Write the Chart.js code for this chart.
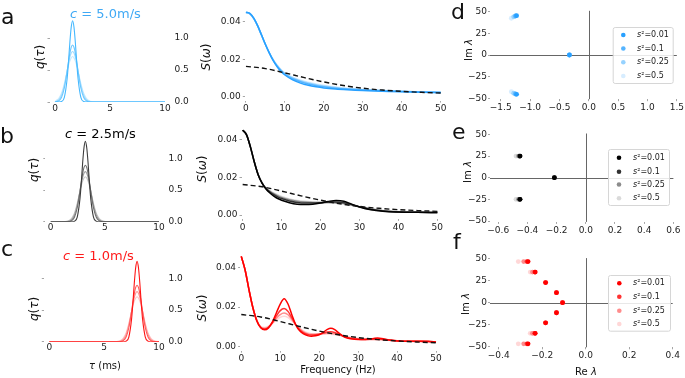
<!DOCTYPE html>
<html><head><meta charset="utf-8">
<script src="https://cdn.jsdelivr.net/npm/chart.js@4.4.0/dist/chart.umd.min.js"></script>
<style>
html,body{margin:0;padding:0;background:#fff;}
#wrap{position:relative;width:685px;height:378px;overflow:hidden;font-family:"DejaVu Sans",sans-serif;color:#111;}
canvas{position:absolute;}
.t{position:absolute;white-space:nowrap;line-height:1;}
.c{position:absolute;white-space:nowrap;line-height:1;transform:translate(-50%,-50%);}
.rot{position:absolute;white-space:nowrap;line-height:1;transform:translate(-50%,-50%) rotate(-90deg);}
.L{font-size:22px;line-height:22px;}
</style></head><body><div id="wrap">
<canvas id="qa"></canvas><canvas id="qb"></canvas><canvas id="qc"></canvas>
<canvas id="sa"></canvas><canvas id="sb"></canvas><canvas id="sc"></canvas>
<canvas id="pd"></canvas><canvas id="pe"></canvas><canvas id="pf"></canvas>
<div class="t L" style="left:1px;top:6px">a</div>
<div class="t L" style="left:0px;top:125px">b</div>
<div class="t L" style="left:1px;top:238px">c</div>
<div class="t L" style="left:451px;top:1px">d</div>
<div class="t L" style="left:452px;top:121px">e</div>
<div class="t L" style="left:453px;top:231px">f</div>
<div class="t" style="left:70px;top:7px;font-size:13px;color:#3fa9f5"><i>c</i> = 5.0m/s</div>
<div class="t" style="left:65px;top:127px;font-size:13px;color:#000"><i>c</i> = 2.5m/s</div>
<div class="t" style="left:63px;top:249px;font-size:13px;color:#ff1a1a"><i>c</i> = 1.0m/s</div>
<div class="rot" style="left:40px;top:57px;font-size:12px"><i>q</i>(<i>τ</i>)</div>
<div class="rot" style="left:34px;top:170px;font-size:12px"><i>q</i>(<i>τ</i>)</div>
<div class="rot" style="left:34px;top:309px;font-size:12px"><i>q</i>(<i>τ</i>)</div>
<div class="rot" style="left:206px;top:57px;font-size:12px"><i>S</i>(<i>ω</i>)</div>
<div class="rot" style="left:202px;top:169px;font-size:12px"><i>S</i>(<i>ω</i>)</div>
<div class="rot" style="left:202px;top:308px;font-size:12px"><i>S</i>(<i>ω</i>)</div>
<div class="rot" style="left:469px;top:50px;font-size:10px">Im <i>λ</i></div>
<div class="rot" style="left:468px;top:172px;font-size:10px">Im <i>λ</i></div>
<div class="rot" style="left:466px;top:304px;font-size:10px">Im <i>λ</i></div>
<div class="c" style="left:105px;top:366px;font-size:10px"><i>τ</i> (ms)</div>
<div class="c" style="left:338px;top:370px;font-size:10px">Frequency (Hz)</div>
<div class="c" style="left:586px;top:372px;font-size:10px">Re <i>λ</i></div>
</div>
<script>
// ---------- data ----------
const s2Labels = ['0.01', '0.1', '0.25', '0.5'];
const qTicksX = [0, 5, 10];
const qTicksY = [0, 0.5, 1.0];
const sTicksX = [0, 10, 20, 30, 40, 50];
const sTicksY = [0, 0.02, 0.04];
const imTicks = [-50, -25, 0, 25, 50];
const dTicksX = [-1.5, -1.0, -0.5, 0, 0.5, 1.0, 1.5];
const eTicksX = [-0.6, -0.4, -0.2, 0, 0.2, 0.4, 0.6];
const fTicksX = [-0.4, -0.2, 0, 0.2, 0.4];

// delay kernel q(tau): peak delay per speed, offsets around the peak
const qPeakA = 1.6, qPeakB = 3.2, qPeakC = 8.0;
const qOffsets = [-2, -1.75, -1.5, -1.25, -1, -0.75, -0.5, -0.375, -0.25, -0.125, 0, 0.125, 0.25, 0.375, 0.5, 0.75, 1, 1.25, 1.5, 1.75, 2];
const q001 = [0, 0, 0, 0, 0.008, 0.074, 0.36, 0.62, 0.93, 1.17, 1.27, 1.17, 0.93, 0.62, 0.36, 0.074, 0.008, 0, 0, 0, 0];
const q01 = [0, 0, 0.003, 0.019, 0.075, 0.22, 0.48, 0.63, 0.76, 0.856, 0.89, 0.856, 0.76, 0.63, 0.48, 0.22, 0.075, 0.019, 0.003, 0, 0];
const q025 = [0, 0.002, 0.01, 0.037, 0.11, 0.26, 0.48, 0.60, 0.70, 0.766, 0.79, 0.766, 0.70, 0.60, 0.48, 0.26, 0.11, 0.037, 0.01, 0.002, 0];
const q05 = [0.001, 0.005, 0.02, 0.059, 0.14, 0.29, 0.48, 0.57, 0.64, 0.69, 0.71, 0.69, 0.64, 0.57, 0.48, 0.29, 0.14, 0.059, 0.02, 0.005, 0.001];

// spectra S(omega)
const fDash = [0, 5, 10, 15, 20, 25, 30, 35, 40, 45, 50];
const sDash = [0.0162, 0.0150, 0.0127, 0.0102, 0.0079, 0.0060, 0.0046, 0.0036, 0.0029, 0.0024, 0.0020];

const fA = [0, 1, 2, 3, 4, 5, 6, 7, 8, 9, 10, 12, 14, 16, 18, 20, 23, 26, 30, 35, 40, 45, 50];
const sA001 = [0.0450, 0.0443, 0.0418, 0.0378, 0.0328, 0.0278, 0.0232, 0.0192, 0.0160, 0.0135, 0.0116, 0.0090, 0.0073, 0.0061, 0.0053, 0.0047, 0.0041, 0.0037, 0.0033, 0.0030, 0.0027, 0.0025, 0.0023];
const sA01 = [0.0449, 0.0442, 0.0417, 0.0377, 0.0328, 0.0278, 0.0233, 0.0194, 0.0163, 0.0139, 0.0120, 0.0096, 0.0080, 0.0068, 0.0060, 0.0053, 0.0046, 0.0041, 0.0036, 0.0032, 0.0028, 0.0025, 0.0023];
const sA025 = [0.0448, 0.0441, 0.0416, 0.0376, 0.0327, 0.0278, 0.0234, 0.0196, 0.0166, 0.0142, 0.0123, 0.0100, 0.0085, 0.0073, 0.0064, 0.0057, 0.0049, 0.0043, 0.0038, 0.0033, 0.0029, 0.0026, 0.0023];
const sA05 = [0.0447, 0.0440, 0.0415, 0.0375, 0.0327, 0.0278, 0.0235, 0.0198, 0.0169, 0.0145, 0.0126, 0.0104, 0.0089, 0.0077, 0.0068, 0.0061, 0.0052, 0.0045, 0.0039, 0.0034, 0.0030, 0.0026, 0.0023];

const fB = [0, 1, 2, 3, 4, 5, 6, 7, 8, 9, 10, 12, 14, 16, 18, 20, 22, 24, 26, 28, 30, 33, 36, 40, 45, 50];
const sB001 = [0.0450, 0.0425, 0.0360, 0.0280, 0.0212, 0.0168, 0.0138, 0.0117, 0.0101, 0.0088, 0.0079, 0.0066, 0.0058, 0.0056, 0.0058, 0.0064, 0.0072, 0.0077, 0.0073, 0.0058, 0.0043, 0.0028, 0.0021, 0.0017, 0.0015, 0.0014];
const sB01 = [0.0450, 0.0425, 0.0360, 0.0281, 0.0213, 0.0169, 0.0140, 0.0122, 0.0108, 0.0097, 0.0088, 0.0075, 0.0067, 0.0064, 0.0064, 0.0066, 0.0069, 0.0070, 0.0066, 0.0056, 0.0044, 0.0030, 0.0022, 0.0017, 0.0015, 0.0014];
const sB025 = [0.0450, 0.0425, 0.0360, 0.0281, 0.0214, 0.0170, 0.0142, 0.0126, 0.0113, 0.0103, 0.0094, 0.0081, 0.0073, 0.0069, 0.0067, 0.0067, 0.0067, 0.0066, 0.0062, 0.0054, 0.0045, 0.0032, 0.0023, 0.0018, 0.0015, 0.0014];
const sB05 = [0.0450, 0.0425, 0.0361, 0.0282, 0.0215, 0.0171, 0.0144, 0.0130, 0.0118, 0.0108, 0.0099, 0.0086, 0.0078, 0.0073, 0.0070, 0.0068, 0.0066, 0.0063, 0.0059, 0.0052, 0.0045, 0.0034, 0.0025, 0.0019, 0.0015, 0.0014];

const fC = [0, 1, 2, 3, 4, 5, 6, 7, 8, 9, 10, 11, 12, 13, 14, 15, 16, 17, 18, 19, 20, 21, 22, 23, 24, 25, 26, 27, 28, 30, 32, 34, 35, 36, 38, 40, 43, 46, 48, 50];
const sC001 = [0.0455, 0.0385, 0.0285, 0.0195, 0.0130, 0.0095, 0.0085, 0.0095, 0.0125, 0.0170, 0.0215, 0.0242, 0.0215, 0.0160, 0.0110, 0.0080, 0.0065, 0.0056, 0.0053, 0.0055, 0.0060, 0.0072, 0.0086, 0.0093, 0.0086, 0.0070, 0.0055, 0.0045, 0.0040, 0.0036, 0.0037, 0.0042, 0.0044, 0.0042, 0.0034, 0.0029, 0.0027, 0.0028, 0.0027, 0.0024];
const sC01 = [0.0455, 0.0385, 0.0285, 0.0195, 0.0131, 0.0097, 0.0089, 0.0098, 0.0122, 0.0155, 0.0182, 0.0192, 0.0178, 0.0145, 0.0110, 0.0085, 0.0070, 0.0062, 0.0059, 0.0060, 0.0063, 0.0068, 0.0074, 0.0076, 0.0072, 0.0063, 0.0055, 0.0048, 0.0043, 0.0038, 0.0037, 0.0039, 0.0039, 0.0038, 0.0034, 0.0030, 0.0027, 0.0027, 0.0026, 0.0024];
const sC025 = [0.0455, 0.0385, 0.0285, 0.0196, 0.0132, 0.0099, 0.0093, 0.0100, 0.0119, 0.0143, 0.0162, 0.0170, 0.0161, 0.0137, 0.0111, 0.0090, 0.0075, 0.0066, 0.0063, 0.0063, 0.0064, 0.0066, 0.0068, 0.0068, 0.0065, 0.0060, 0.0054, 0.0049, 0.0045, 0.0040, 0.0038, 0.0037, 0.0037, 0.0036, 0.0033, 0.0030, 0.0027, 0.0026, 0.0025, 0.0024];
const sC05 = [0.0455, 0.0385, 0.0286, 0.0197, 0.0134, 0.0101, 0.0097, 0.0103, 0.0117, 0.0134, 0.0148, 0.0153, 0.0147, 0.0130, 0.0111, 0.0094, 0.0080, 0.0071, 0.0066, 0.0064, 0.0064, 0.0064, 0.0064, 0.0063, 0.0061, 0.0058, 0.0054, 0.0050, 0.0046, 0.0041, 0.0038, 0.0036, 0.0035, 0.0034, 0.0032, 0.0030, 0.0027, 0.0026, 0.0025, 0.0024];

// eigenvalues (Re, Im)
const dRe001 = [-1.23, -0.33, -1.23], dIm001 = [45.4, 0, -45.4];
const dRe01 = [-1.25, -0.33, -1.25], dIm01 = [45, 0, -45];
const dRe025 = [-1.28, -1.28], dIm025 = [44, -44];
const dRe05 = [-1.32, -1.32], dIm05 = [42.4, -42.4];
const eRe001 = [-0.45, -0.215, -0.45], eIm001 = [25, 0, -25];
const eRe01 = [-0.452, -0.215, -0.452], eIm01 = [25, 0, -25];
const eRe025 = [-0.46, -0.46], eIm025 = [25, -25];
const eRe05 = [-0.478, -0.478], eIm05 = [25, -25];
const fRe001 = [-0.265, -0.232, -0.184, -0.134, -0.106, -0.134, -0.184, -0.232, -0.265];
const fIm001 = [47, 35, 23, 11.5, 0, -11.5, -23, -35, -47];
const fRe01 = [-0.27, -0.234, -0.185, -0.135, -0.107, -0.135, -0.185, -0.234, -0.27];
const fIm01 = [47, 35, 23, 11.5, 0, -11.5, -23, -35, -47];
const fRe025 = [-0.285, -0.245, -0.245, -0.285], fIm025 = [47, 35, -35, -47];
const fRe05 = [-0.31, -0.255, -0.255, -0.31], fIm05 = [47, 35, -35, -47];

// ---------- styles ----------
const blueCols = ['rgb(40,160,255)', 'rgb(85,180,255)', 'rgb(150,210,255)', 'rgb(215,237,255)'];
const grayCols = ['rgb(0,0,0)', 'rgb(50,50,50)', 'rgb(140,140,140)', 'rgb(218,218,218)'];
const redCols = ['rgb(255,0,0)', 'rgb(255,50,50)', 'rgb(255,140,140)', 'rgb(255,215,215)'];
const qBlue = ['rgb(70,185,255)', 'rgb(110,200,255)', 'rgb(160,220,255)', 'rgb(200,235,255)'];
const qGray = ['rgb(60,60,60)', 'rgb(110,110,110)', 'rgb(160,160,160)', 'rgb(200,200,200)'];
const qRed = ['rgb(255,20,20)', 'rgb(255,90,90)', 'rgb(255,150,150)', 'rgb(255,195,195)'];
const tickFont = {family: 'DejaVu Sans', size: 9};
const tickColor = '#222';
const markColor = 'rgba(0,0,0,0.35)';

function fmt(dec) { return v => (v < 0 ? '\u2212' : '') + Math.abs(v).toFixed(dec); }
function setTicks(vals) { return s => { s.ticks = vals.map(v => ({value: v})); }; }
function zip(xs, ys) { return xs.map((x, i) => ({x: x, y: ys[i]})); }
function qPoints(peak, vals) {
  const pts = [{x: 0, y: 0}];
  qOffsets.forEach((o, i) => { const t = peak + o; if (t > 0 && t < 10) pts.push({x: t, y: vals[i]}); });
  pts.push({x: 10, y: 0});
  return pts;
}
function place(id, box, area) {
  const c = document.getElementById(id);
  c.width = box.w; c.height = box.h;
  c.style.left = box.x + 'px'; c.style.top = box.y + 'px';
  return {c, L: area.l - box.x, R: box.x + box.w - area.r, T: area.t - box.y, B: box.y + box.h - area.b};
}
function baseOpts(T, Rpad) {
  return {responsive: false, animation: false, events: [],
    layout: {autoPadding: false, padding: {top: T, right: Rpad || 0, left: 0, bottom: 0}},
    plugins: {legend: {display: false}, tooltip: {enabled: false}, title: {display: false}}};
}
function axis(pos, min, max, ticks, dec, size, marks, pad) {
  const a = {type: 'linear', position: pos, min, max, afterBuildTicks: setTicks(ticks),
    border: {display: false},
    grid: {display: marks, drawOnChartArea: false, drawTicks: marks, tickLength: 2, color: markColor},
    ticks: {callback: fmt(dec), font: tickFont, color: tickColor, padding: pad, maxRotation: 0, minRotation: 0, autoSkip: false}};
  if (pos === 'bottom') a.afterFit = s => { s.height = size; };
  else a.afterFit = s => { s.width = size; };
  return a;
}
function lineDs(pts, color, w, extra) {
  return Object.assign({data: pts, borderColor: color, backgroundColor: color, borderWidth: w, pointRadius: 0, fill: false, cubicInterpolationMode: 'monotone'}, extra || {});
}

// q(tau) panels
function qChart(id, box, area, peak, cols) {
  const p = place(id, box, area);
  const qs = [q001, q01, q025, q05];
  const ds = qs.map((v, i) => lineDs(qPoints(peak, v), cols[i], 1.1));
  const o = baseOpts(p.T, 0);
  o.scales = {
    x: axis('bottom', -0.5, 10.5, qTicksX, 0, p.B, false, 1),
    yl: axis('left', 0, 1.33, qTicksY, 1, p.L, true, 0),
    y: axis('right', 0, 1.33, qTicksY, 1, p.R, false, 4)
  };
  o.scales.yl.ticks.display = false;
  new Chart(p.c, {type: 'line', data: {datasets: ds}, options: o});
}
// S(omega) panels
function sChart(id, box, area, fr, series, cols) {
  const p = place(id, box, area);
  const ds = [lineDs(zip(fDash, sDash), '#111', 1.4, {borderDash: [5, 3]})]
    .concat(series.map((v, i) => lineDs(zip(fr, v), cols[i], 1.5)));
  const o = baseOpts(p.T, p.R);
  o.scales = {
    x: axis('bottom', -0.3, 50.3, sTicksX, 0, p.B, true, 1),
    y: axis('left', -0.002, 0.0475, sTicksY, 2, p.L, true, 2)
  };
  new Chart(p.c, {type: 'line', data: {datasets: ds}, options: o});
}
// eigenvalue panels
const zeroLines = {id: 'zeroLines', beforeDatasetsDraw(chart) {
  const {ctx, chartArea: a, scales: {x, y}} = chart;
  const px = Math.round(x.getPixelForValue(0)) + 0.5, py = Math.round(y.getPixelForValue(0)) + 0.5;
  ctx.save(); ctx.strokeStyle = '#666'; ctx.lineWidth = 1; ctx.beginPath();
  ctx.moveTo(a.left, py); ctx.lineTo(a.right, py); ctx.moveTo(px, a.top); ctx.lineTo(px, a.bottom);
  ctx.stroke(); ctx.restore();
}};
const s2Legend = {id: 's2Legend', afterDatasetsDraw(chart, args, o) {
  const ctx = chart.ctx;
  const [x0, y0, x1, y1] = o.box.map((v, i) => v - (i % 2 ? o.oy : o.ox));
  ctx.save();
  ctx.beginPath();
  if (ctx.roundRect) ctx.roundRect(x0 + 0.5, y0 + 0.5, x1 - x0, y1 - y0, 2); else ctx.rect(x0 + 0.5, y0 + 0.5, x1 - x0, y1 - y0);
  ctx.fillStyle = 'rgba(255,255,255,0.85)'; ctx.fill();
  ctx.strokeStyle = '#d6d6d6'; ctx.lineWidth = 1; ctx.stroke();
  ctx.textBaseline = 'middle';
  o.rows.forEach((ry, i) => {
    const yy = ry - o.oy;
    ctx.fillStyle = chart.data.datasets[i].backgroundColor;
    ctx.beginPath(); ctx.arc(o.dotX - o.ox, yy, 2.3, 0, Math.PI * 2); ctx.fill();
    ctx.fillStyle = '#222';
    ctx.font = 'italic 8px "DejaVu Sans"';
    const tx = o.textX - o.ox;
    ctx.fillText('s', tx, yy);
    const w = ctx.measureText('s').width;
    ctx.font = '8px "DejaVu Sans"';
    ctx.fillText('\u00b2=' + s2Labels[i], tx + w, yy);
  });
  ctx.restore();
}};
function eigChart(id, box, area, xmin, xmax, xticks, dec, sets, cols, leg) {
  const p = place(id, box, area);
  const ds = sets.map((s, i) => ({data: zip(s[0], s[1]), backgroundColor: cols[i], borderColor: cols[i], pointRadius: 2.4, pointBorderWidth: 0, showLine: false}));
  const o = baseOpts(p.T, p.R);
  o.scales = {
    x: axis('bottom', xmin, xmax, xticks, dec, p.B, true, 1),
    y: axis('left', -51, 51, imTicks, 0, p.L, true, 1)
  };
  o.plugins.s2Legend = Object.assign({ox: box.x, oy: box.y}, leg);
  new Chart(p.c, {type: 'scatter', data: {datasets: ds}, options: o, plugins: [zeroLines, s2Legend]});
}

qChart('qa', {x: 0, y: 0, w: 200, h: 118}, {l: 49.5, r: 170.5, t: 16.9, b: 102}, qPeakA, qBlue);
qChart('qb', {x: 0, y: 122, w: 200, h: 112}, {l: 45.3, r: 164.4, t: 137.4, b: 221.7}, qPeakB, qGray);
qChart('qc', {x: 0, y: 245, w: 200, h: 112}, {l: 43.8, r: 164.5, t: 257.4, b: 341.7}, qPeakC, qRed);

sChart('sa', {x: 212, y: 0, w: 240, h: 118}, {l: 244.8, r: 441.9, t: 3.6, b: 100.6}, fA, [sA001, sA01, sA025, sA05], blueCols);
sChart('sb', {x: 212, y: 118, w: 240, h: 116}, {l: 241.5, r: 438.5, t: 122.0, b: 218.9}, fB, [sB001, sB01, sB025, sB05], grayCols);
sChart('sc', {x: 212, y: 245, w: 240, h: 120}, {l: 240.1, r: 437.2, t: 252.4, b: 350.7}, fC, [sC001, sC01, sC025, sC05], redCols);

eigChart('pd', {x: 462, y: 0, w: 223, h: 116}, {l: 490, r: 677.8, t: 10.8, b: 99.2}, -1.683, 1.5, dTicksX, 1,
  [[dRe001, dIm001], [dRe01, dIm01], [dRe025, dIm025], [dRe05, dIm05]], blueCols,
  {box: [612.7, 27, 672.7, 83], rows: [35, 48.5, 62.3, 76], dotX: 623.3, textX: 637});
eigChart('pe', {x: 462, y: 118, w: 223, h: 116}, {l: 490, r: 673.4, t: 133.5, b: 221.9}, -0.656, 0.6, eTicksX, 1,
  [[eRe001, eIm001], [eRe01, eIm01], [eRe025, eIm025], [eRe05, eIm05]], grayCols,
  {box: [608, 149, 669, 205], rows: [157.7, 171.7, 184.5, 198.3], dotX: 619, textX: 633});
eigChart('pf', {x: 462, y: 240, w: 223, h: 122}, {l: 490, r: 672.7, t: 258.1, b: 347.3}, -0.44, 0.4, fTicksX, 1,
  [[fRe001, fIm001], [fRe01, fIm01], [fRe025, fIm025], [fRe05, fIm05]], redCols,
  {box: [608, 275, 670, 330.7], rows: [283.3, 296.7, 310.7, 324], dotX: 619.3, textX: 633});
</script>
</body></html>
